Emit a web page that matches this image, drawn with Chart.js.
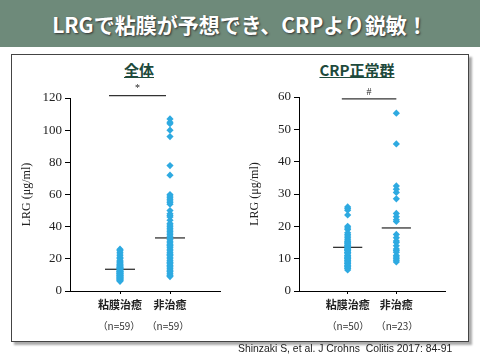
<!DOCTYPE html>
<html>
<head>
<meta charset="utf-8">
<script src="https://cdn.jsdelivr.net/npm/chart.js@4.4.1/dist/chart.umd.min.js"></script>
<style>
body { margin: 0; width: 480px; height: 360px; position: relative; overflow: hidden; background: #fff; font-family: "Noto Sans CJK JP", sans-serif; }
#header { position: absolute; left: 0; top: 0; width: 480px; height: 47px; background: #6e8a7a; color: #fff; font-weight: bold; font-size: 21px; text-align: center; line-height: 48px; text-shadow: 1px 1px 2px #333; }
#panel { position: absolute; left: 11px; top: 54px; width: 456px; height: 286px; border: 1px solid #444; box-shadow: 3px 3px 2px #aaa; }
canvas { position: absolute; top: 50px; }
#chart1 { left: 0; }
#chart2 { left: 240px; }
.title { position: absolute; top: 59px; width: 140px; text-align: center; font-weight: bold; font-size: 15px; color: #1e4a3c; text-decoration: underline; }
.nlab { position: absolute; top: 318px; width: 60px; text-align: center; font-size: 10px; color: #333; }
#cite { position: absolute; left: 238px; top: 343px; font-family: "Liberation Sans", Arial, sans-serif; font-size: 10.4px; color: #222; }
</style>
</head>
<body>
<div id="header">LRGで粘膜が予想でき、CRPより鋭敏！</div>
<div id="panel"></div>
<div class="title" style="left:69px">全体</div>
<div class="title" style="left:287px">CRP正常群</div>
<canvas id="chart1" width="240" height="290"></canvas>
<canvas id="chart2" width="240" height="290"></canvas>
<div class="nlab" style="left:89px">（n=59）</div>
<div class="nlab" style="left:138px">（n=59）</div>
<div class="nlab" style="left:318px">（n=50）</div>
<div class="nlab" style="left:367px">（n=23）</div>
<div id="cite">Shinzaki S, et al. J Crohns&nbsp; Colitis 2017: 84-91</div>
<script>
// CATEGORIES
const categories = ['粘膜治癒', '非治癒']

// ALL PATIENTS (LRG ug/ml)
const allHealed = [26, 25.5, 25, 24, 23, 22, 21, 20.5, 20, 19, 18.5, 18, 17.5, 17, 16.5, 16, 15.5, 15, 15, 14.5,
  14, 14, 13.5, 13, 13, 12.5, 12.5, 12, 12, 11.5, 11.5, 11, 11, 10.5, 10.5, 10, 10, 9.5, 9.5, 9,
  9, 8.5, 8.5, 8, 8, 7.5, 7.5, 7, 7, 6.5, 6.5, 6, 13.8, 14.8, 16.2, 12.2, 10.8, 9.8, 8.2]
const allNotHealed = [107, 105, 104, 100, 96, 78, 72, 60, 59, 58, 57, 56, 55, 54, 50, 48, 47, 46, 44, 42, 41, 40,
  39, 38, 37, 36, 35, 34, 33, 32, 31, 30, 29, 28, 27, 26, 25, 24, 23, 22, 21, 20, 19, 18, 17, 16,
  15, 14, 13, 12, 11, 10, 9.5, 9, 28.5, 22.5, 17.5, 12.5, 15.5]
const allMeans = [13.5, 33]

// CRP NORMAL GROUP
const crpHealed = [26, 25.5, 25, 23.5, 20, 19.5, 19, 18, 17.5, 17, 16.5, 16, 15.5, 15, 14.5, 14, 14, 13.5, 13, 13,
  12.5, 12.5, 12, 12, 11.5, 11, 11, 10.5, 10.5, 10, 10, 9.5, 9.5, 9, 9, 8.5, 8.5, 8, 8, 7.5,
  7.5, 7, 7, 6.5, 15.2, 13.8, 11.8, 10.2, 12.8, 14.6]
const crpNotHealed = [55, 45.5, 32.5, 31.5, 30.5, 28.5, 24, 23, 22, 21.5, 17.5, 16.5, 15.5, 15, 14, 13, 12.5, 12, 11, 10.5, 10, 9.5, 9]
const crpMeans = [13.5, 19.5]

// Y TICKS
const allTicks = [0, 20, 40, 60, 80, 100, 120]
const crpTicks = [0, 10, 20, 30, 40, 50, 60]

const dotColor = '#2eaae1'
const serif = 'Liberation Serif'

function dots(values, cat) {
  return {
    data: values.map(v => ({ x: cat, y: v })),
    pointStyle: 'rectRot',
    pointRadius: 3.6,
    backgroundColor: dotColor,
    borderColor: dotColor,
    borderWidth: 0
  }
}
function seg(x1, x2, y, color, width) {
  return {
    data: [{ x: x1, y: y }, { x: x2, y: y }],
    showLine: true,
    pointRadius: 0,
    borderColor: color,
    borderWidth: width,
    clip: false
  }
}

// SIGNIFICANCE MARK TEXT
const markPlugin = {
  id: 'mark',
  afterDatasetsDraw(chart, args, opts) {
    const c = chart.ctx
    const x = chart.scales.x.getPixelForValue(opts.x)
    const y = chart.scales.y.getPixelForValue(opts.y)
    c.save()
    c.fillStyle = '#222'
    c.font = '10px ' + serif
    c.textAlign = 'center'
    c.textBaseline = 'bottom'
    c.fillText(opts.text, x, y - 2)
    c.restore()
  }
}

function makeChart(id, healed, notHealed, means, ticks, bar, mark, pad, yWidth) {
  const ymax = ticks[ticks.length - 1]
  return new Chart(document.getElementById(id).getContext('2d'), {
    type: 'scatter',
    data: {
      datasets: [
        dots(healed, 1),
        dots(notHealed, 2),
        seg(0.7, 1.3, means[0], '#333', 1.3),
        seg(1.7, 2.3, means[1], '#333', 1.3),
        seg(bar[0], bar[1], bar[2], '#333', 1.2)
      ]
    },
    options: {
      responsive: false,
      animation: false,
      devicePixelRatio: 1,
      layout: { padding: pad },
      plugins: { legend: { display: false }, tooltip: { enabled: false }, mark: mark },
      scales: {
        x: {
          type: 'linear', min: 0, max: 3,
          afterBuildTicks: (axis) => { axis.ticks = [{ value: 1 }, { value: 2 }] },
          afterFit: (axis) => { axis.height = 49 },
          grid: { drawOnChartArea: false, color: '#000', tickLength: 3 },
          border: { color: '#000', width: 1 },
          ticks: {
            padding: 4,
            color: '#222',
            font: { family: 'Noto Sans CJK JP', size: 11, weight: 'bold' },
            callback: (v) => categories[v - 1] || ''
          }
        },
        y: {
          min: 0, max: ymax,
          afterBuildTicks: (axis) => { axis.ticks = ticks.map(v => ({ value: v })) },
          afterFit: (axis) => { axis.width = yWidth },
          grid: { drawOnChartArea: false, color: '#000', tickLength: 5 },
          border: { color: '#000', width: 1 },
          ticks: { padding: 3, color: '#222', font: { family: serif, size: 13 } },
          title: { display: true, text: 'LRG (μg/ml)', color: '#222', font: { family: serif, size: 12 }, padding: 4 }
        }
      }
    },
    plugins: [markPlugin]
  })
}

makeChart('chart1', allHealed, allNotHealed, allMeans, allTicks,
  [0.78, 1.92, 121.5], { x: 1.35, y: 121.5, text: '*' },
  { left: 16, top: 48, right: 20, bottom: 0 }, 54)
makeChart('chart2', crpHealed, crpNotHealed, crpMeans, crpTicks,
  [0.88, 2.0, 59.4], { x: 1.44, y: 59.4, text: '#' },
  { left: 4, top: 47, right: 35, bottom: 0 }, 55)
</script>
</body>
</html>
